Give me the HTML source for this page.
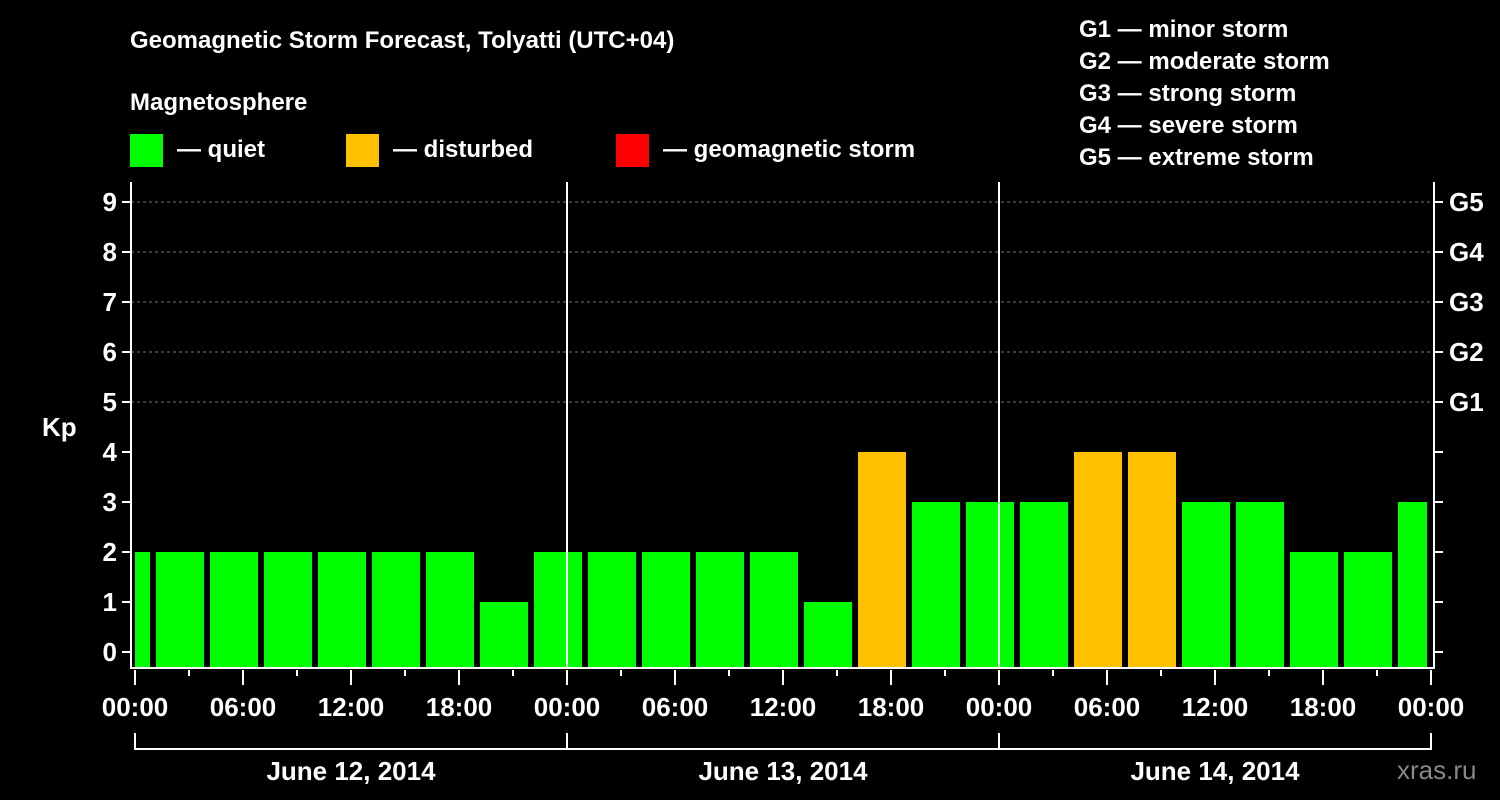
<!DOCTYPE html>
<html><head><meta charset="utf-8"><style>
html,body{margin:0;padding:0;background:#000;}
svg{display:block;font-family:"Liberation Sans",Arial,sans-serif;font-weight:bold;}
</style></head><body>
<svg width="1500" height="800" viewBox="0 0 1500 800">
<rect x="0" y="0" width="1500" height="800" fill="#000"/>
<text x="130" y="48" fill="#fff" font-size="24">Geomagnetic Storm Forecast, Tolyatti (UTC+04)</text>
<text x="130" y="110" fill="#fff" font-size="24">Magnetosphere</text>
<g>
<rect x="130" y="134" width="33" height="33" fill="#00ff00"/>
<text x="177" y="157" fill="#fff" font-size="24">— quiet</text>
<rect x="346" y="134" width="33" height="33" fill="#ffc000"/>
<text x="393" y="157" fill="#fff" font-size="24">— disturbed</text>
<rect x="616" y="134" width="33" height="33" fill="#ff0000"/>
<text x="663" y="157" fill="#fff" font-size="24">— geomagnetic storm</text>
</g>
<g fill="#fff" font-size="24">
<text x="1079" y="37">G1 — minor storm</text>
<text x="1079" y="69">G2 — moderate storm</text>
<text x="1079" y="101">G3 — strong storm</text>
<text x="1079" y="133">G4 — severe storm</text>
<text x="1079" y="165">G5 — extreme storm</text>
</g>
<text x="42" y="436" fill="#fff" font-size="26">Kp</text>
<g id="plot"></g>
<text x="1397" y="779" fill="#888" font-size="26" font-weight="normal">xras.ru</text>
</svg>
<script>
const kpValues = [2,2,2,2,2,2,2,1,2,2,2,2,2,1,4,3,3,3,4,4,3,3,2,2,3];
const yTicks = [0,1,2,3,4,5,6,7,8,9];
const gLabels = ["G1","G2","G3","G4","G5"];
const timeLabels = ["00:00","06:00","12:00","18:00"];
const dayLabels = ["June 12, 2014","June 13, 2014","June 14, 2014"];
const firstBarStartHour = -2;

const NS="http://www.w3.org/2000/svg";
const plot=document.getElementById('plot');
const X0=135, PXH=18, Y0=652, PXU=50, BOTTOM=668, TOP=182, LEFT=131, RIGHT=1434;
const xs=h=>X0+h*PXH, ys=v=>Y0-v*PXU;
const END=X0+72*PXH;
function mk(t,a,p){const e=document.createElementNS(NS,t);for(const k in a)e.setAttribute(k,a[k]);(p||plot).appendChild(e);return e;}

// gridlines
yTicks.filter(v=>v>=5).forEach(v=>{
  const l=mk('line',{x1:LEFT,x2:RIGHT,y1:ys(v),y2:ys(v),stroke:'#777','stroke-dasharray':'3,3','stroke-width':1});
  
  
});
// bars
kpValues.forEach((v,i)=>{
  let s=xs(firstBarStartHour+3*i)+3, e=xs(firstBarStartHour+3*i+3)-3;
  s=Math.max(s,X0); e=Math.min(e,END-4);
  const r=mk('rect',{x:s,y:ys(v),width:e-s,height:BOTTOM-ys(v),fill:v>=5?'#ff0000':(v>=4?'#ffc000':'#00ff00')});
  
  
});
// day dividers
[1,2].forEach(d=>{
  const l=mk('line',{x1:xs(24*d),x2:xs(24*d),y1:TOP,y2:BOTTOM,stroke:'#fff','stroke-width':2});
  
  
});
// axes
let a=mk('line',{x1:LEFT,x2:LEFT,y1:TOP,y2:BOTTOM+1,stroke:'#fff','stroke-width':2});

a=mk('line',{x1:RIGHT,x2:RIGHT,y1:TOP,y2:BOTTOM+1,stroke:'#fff','stroke-width':2});

a=mk('line',{x1:LEFT,x2:RIGHT,y1:BOTTOM,y2:BOTTOM,stroke:'#fff','stroke-width':2});

yTicks.forEach(v=>{
  const y=ys(v);
  let t=mk('line',{x1:LEFT-9,x2:LEFT,y1:y,y2:y,stroke:'#fff','stroke-width':2});
  
  t=mk('line',{x1:RIGHT,x2:RIGHT+9,y1:y,y2:y,stroke:'#fff','stroke-width':2});
  
  const tx=mk('text',{x:LEFT-14,y:y+9,fill:'#fff','font-size':26,'text-anchor':'end'});
  tx.textContent=v;
  
});
gLabels.forEach((g,i)=>{
  const tx=mk('text',{x:RIGHT+15,y:ys(5+i)+9,fill:'#fff','font-size':26});
  tx.textContent=g;
  
});
for(let h=0;h<=72;h+=3){
  const major=h%6===0;
  const t=mk('line',{x1:xs(h),x2:xs(h),y1:BOTTOM+2,y2:BOTTOM+(major?17:8),stroke:'#fff','stroke-width':2});
  
  if(major){
    const tx=mk('text',{x:xs(h),y:716,fill:'#fff','font-size':26,'text-anchor':'middle'});
    tx.textContent=timeLabels[(h/6)%4];
    
  }
}
// day brackets
dayLabels.forEach((d,i)=>{
  const x1=xs(24*i), x2=xs(24*i+24);
  const p=mk('path',{d:`M${x1} 733 V749 H${x2} V733`,stroke:'#fff','stroke-width':2,fill:'none'});
  
  const tx=mk('text',{x:(x1+x2)/2,y:780,fill:'#fff','font-size':26,'text-anchor':'middle'});
  tx.textContent=d;
  
});
</script>
</body></html>
